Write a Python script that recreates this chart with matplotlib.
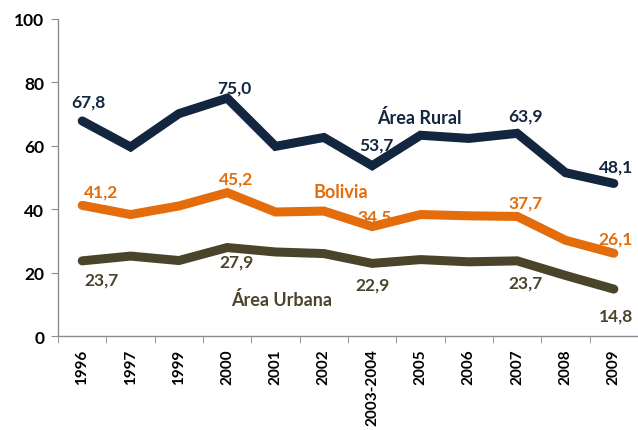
import numpy as np
import matplotlib.pyplot as plt

# categories and series
years = ["1996", "1997", "1999", "2000", "2001", "2002", "2003-2004",
         "2005", "2006", "2007", "2008", "2009"]
rural = [67.8, 59.6, 70.1, 75.0, 59.8, 62.6, 53.7, 63.3, 62.3, 63.9, 51.5, 48.1]
bolivia = [41.2, 38.3, 41.0, 45.2, 39.1, 39.4, 34.5, 38.3, 37.9, 37.7, 30.2, 26.1]
urbana = [23.7, 25.2, 23.8, 27.9, 26.5, 26.0, 22.9, 24.1, 23.4, 23.7, 19.1, 14.8]

# which points carry a value label
labelled = [0, 3, 6, 9, 11]

C_RURAL = "#13263f"
C_BOL = "#e46c0a"
C_URB = "#4a442a"

plt.rcParams['font.family'] = ['Lato', 'DejaVu Sans']
plt.rcParams['font.weight'] = 'bold'

def fmt(v):
	return ("%.1f" % v).replace(".", ",")

def Main():
	fig = plt.figure(figsize=(6.38, 4.31), dpi=100)
	ax = fig.add_axes([0.091, 0.218, 0.909, 0.736])
	x = np.arange(len(years))

	ax.plot(x, rural, color=C_RURAL, lw=6.5, solid_capstyle="round", solid_joinstyle="miter")
	ax.plot(x, bolivia, color=C_BOL, lw=6.5, solid_capstyle="round", solid_joinstyle="miter")
	ax.plot(x, urbana, color=C_URB, lw=6.5, solid_capstyle="round", solid_joinstyle="miter")

	# value labels: offsets in pixels from the point
	off_r = [(6, 19), (7, 11), (4, 21), (8, 18), (2, 17)]
	off_b = [(19, 14), (9, 14), (2, 10), (8, 14), (2, 15)]
	off_u = [(19, -19), (9, -14), (0, -21), (8, -22), (2, -26)]
	for vals, offs, col in ((rural, off_r, C_RURAL), (bolivia, off_b, C_BOL), (urbana, off_u, C_URB)):
		for i, o in zip(labelled, offs):
			ax.annotate(fmt(vals[i]), (x[i], vals[i]), xytext=o, textcoords="offset pixels",
				ha="center", va="center", color=col, fontsize=12.5, fontweight="bold",
				annotation_clip=False)

	# series names
	ax.text(6.97, 69.0, "Área Rural", color=C_RURAL, fontsize=13, fontweight="bold", ha="center", va="center")
	ax.text(5.36, 45.5, "Bolivia", color=C_BOL, fontsize=13, fontweight="bold", ha="center", va="center")
	ax.text(4.13, 11.7, "Área Urbana", color=C_URB, fontsize=13, fontweight="bold", ha="center", va="center")

	ax.set_ylim(0, 100)
	ax.set_xlim(-0.5, 11.45)
	ax.set_yticks([0, 20, 40, 60, 80, 100])
	ax.set_xticks(x)
	ax.set_xticklabels(years, rotation=90)
	ax.set_xticks(np.arange(-0.5, 12, 1), minor=True)
	ax.tick_params(axis="x", which="major", length=0, pad=9, labelsize=11)
	ax.tick_params(axis="x", which="minor", length=5, color="#8c8c8c", direction="out")
	ax.tick_params(axis="y", length=5, color="#8c8c8c", direction="out", labelsize=12.5, pad=5)
	for lab in ax.get_xticklabels() + ax.get_yticklabels():
		lab.set_fontweight("bold")
		lab.set_color("black")

	for s in ("top", "right"):
		ax.spines[s].set_visible(False)
	for s in ("left", "bottom"):
		ax.spines[s].set_color("#8c8c8c")
		ax.spines[s].set_linewidth(1.0)
	ax.patch.set_visible(False)

	plt.savefig("out.png", dpi=100)
	plt.close()

if __name__ == "__main__":
	Main()
